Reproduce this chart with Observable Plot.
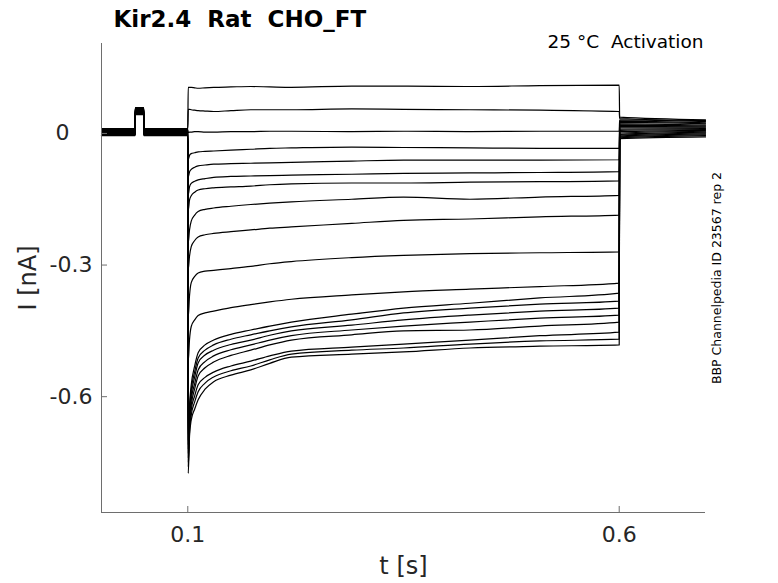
<!DOCTYPE html>
<html><head><meta charset="utf-8">
<script src="https://cdn.jsdelivr.net/npm/d3@7"></script>
<script src="https://cdn.jsdelivr.net/npm/@observablehq/plot@0.6"></script>
<style>
body{margin:0;background:#fff;}
svg text{white-space:pre;}
</style>
</head><body><div id="chart"></div>
<script>
// ---- data ----
const xDomain = [0, 0.7];
const yDomain = [-0.864, 0.205];
const xTicks = [0.1, 0.6];
const yTicks = [0, -0.3, -0.6];

// holding segment: time points and test-pulse flag
const preT = [0, 0.039, 0.0391, 0.049, 0.0491, 0.1];
const prePulseOn = [0, 0, 1, 1, 0, 0];
const pulseAmp = 0.048;

// holding current of each sweep (nA)
const holdI = [0.011, 0.010, 0.009, 0.008, 0.007, 0.006, 0.005, 0.004, 0.003, 0.002,
               0.001, 0.000, -0.001, -0.002, -0.002, -0.003, -0.004, -0.004, -0.005];

// step segment sample times (s)
const stepT = [0.1005, 0.102, 0.104, 0.108, 0.112, 0.12, 0.13, 0.15, 0.173, 0.195, 0.22, 0.29, 0.35, 0.427, 0.508, 0.6];

// current during the step for each sweep (nA)
const s1  = [0.105, 0.105, 0.105, 0.104, 0.103, 0.104, 0.105, 0.106, 0.107, 0.106, 0.105, 0.108, 0.108, 0.107, 0.109, 0.110];
const s2  = [0.055, 0.055, 0.054, 0.053, 0.052, 0.051, 0.050, 0.052, 0.054, 0.054, 0.054, 0.056, 0.055, 0.054, 0.053, 0.050];
const s3  = [0.002, 0.003, 0.003, 0.004, 0.004, 0.003, 0.003, 0.004, 0.004, 0.005, 0.005, 0.004, 0.005, 0.004, 0.005, 0.005];
const s4  = [-0.060, -0.050, -0.046, -0.044, -0.042, -0.041, -0.040, -0.038, -0.036, -0.034, -0.033, -0.031, -0.032, -0.033, -0.034, -0.034];
const s5  = [-0.100, -0.088, -0.082, -0.077, -0.074, -0.072, -0.070, -0.069, -0.068, -0.067, -0.066, -0.063, -0.061, -0.061, -0.061, -0.060];
const s6  = [-0.140, -0.122, -0.114, -0.109, -0.106, -0.103, -0.100, -0.098, -0.097, -0.096, -0.095, -0.093, -0.091, -0.090, -0.089, -0.087];
const s7  = [-0.175, -0.152, -0.142, -0.134, -0.129, -0.126, -0.124, -0.122, -0.120, -0.117, -0.115, -0.113, -0.113, -0.111, -0.110, -0.108];
const s8  = [-0.250, -0.220, -0.200, -0.186, -0.178, -0.173, -0.170, -0.166, -0.162, -0.159, -0.156, -0.150, -0.145, -0.150, -0.145, -0.141];
const s9  = [-0.310, -0.280, -0.258, -0.244, -0.236, -0.231, -0.228, -0.224, -0.220, -0.216, -0.213, -0.205, -0.198, -0.195, -0.190, -0.186];
const s10 = [-0.420, -0.370, -0.340, -0.326, -0.318, -0.314, -0.312, -0.308, -0.303, -0.297, -0.292, -0.283, -0.278, -0.274, -0.272, -0.270];
const s11 = [-0.520, -0.470, -0.440, -0.425, -0.415, -0.409, -0.405, -0.397, -0.390, -0.384, -0.378, -0.368, -0.361, -0.355, -0.349, -0.341];
const s12 = [-0.700, -0.620, -0.573, -0.530, -0.500, -0.482, -0.471, -0.458, -0.448, -0.439, -0.430, -0.412, -0.398, -0.387, -0.375, -0.364];
const s13 = [-0.710, -0.630, -0.585, -0.543, -0.512, -0.494, -0.482, -0.469, -0.459, -0.450, -0.441, -0.425, -0.409, -0.398, -0.389, -0.382];
const s14 = [-0.720, -0.640, -0.596, -0.555, -0.523, -0.505, -0.494, -0.481, -0.471, -0.460, -0.450, -0.437, -0.425, -0.414, -0.405, -0.398];
const s15 = [-0.730, -0.650, -0.607, -0.570, -0.539, -0.520, -0.507, -0.493, -0.482, -0.471, -0.461, -0.448, -0.439, -0.430, -0.421, -0.414];
const s16 = [-0.740, -0.660, -0.619, -0.582, -0.553, -0.534, -0.521, -0.506, -0.494, -0.482, -0.471, -0.459, -0.450, -0.448, -0.439, -0.430];
const s17 = [-0.750, -0.670, -0.630, -0.598, -0.573, -0.556, -0.544, -0.530, -0.519, -0.507, -0.496, -0.487, -0.480, -0.471, -0.461, -0.453];
const s18 = [-0.760, -0.680, -0.642, -0.612, -0.589, -0.569, -0.555, -0.541, -0.530, -0.516, -0.503, -0.494, -0.489, -0.480, -0.473, -0.469];
const s19 = [-0.775, -0.690, -0.653, -0.628, -0.607, -0.583, -0.566, -0.551, -0.539, -0.524, -0.510, -0.503, -0.498, -0.489, -0.485, -0.482];
const stepI = [s1, s2, s3, s4, s5, s6, s7, s8, s9, s10, s11, s12, s13, s14, s15, s16, s17, s18, s19];

// after the step: start and end current of each sweep (nA)
const tailT = [0.6005, 0.7];
const tailStart = [0.037, 0.034, 0.031, 0.028, 0.025, 0.022, 0.019, 0.016, 0.013, 0.010,
                   0.007, 0.004, 0.001, -0.002, -0.004, -0.006, -0.008, -0.010, -0.012];
const tailEnd   = [0.031, 0.029, 0.027, 0.024, 0.022, 0.019, 0.017, 0.015, 0.013, 0.011,
                   0.009, 0.007, 0.005, 0.003, 0.001, -0.001, -0.003, -0.005, -0.008];

// ---- table ----
const rows = [];
stepI.forEach((vals, k) => {
  preT.forEach((t, j) => rows.push({sweep: k, t, i: holdI[k] + prePulseOn[j] * pulseAmp}));
  stepT.forEach((t, j) => rows.push({sweep: k, t, i: vals[j]}));
  rows.push({sweep: k, t: tailT[0], i: tailStart[k]});
  rows.push({sweep: k, t: tailT[1], i: tailEnd[k]});
});

const W = 778, H = 583, mL = 101, mR = 73, mT = 43, mB = 71;
const axisColor = "#6e6e6e", labelColor = "#262626";
const fw = W - mL - mR, fh = H - mT - mB;

const chart = Plot.plot({
  width: W, height: H,
  marginLeft: mL, marginRight: mR, marginTop: mT, marginBottom: mB,
  x: {domain: xDomain},
  y: {domain: yDomain},
  style: {fontFamily: "DejaVu Sans", background: "white", overflow: "visible"},
  marks: [
    Plot.line(rows, {x: "t", y: "i", z: "sweep", stroke: "black", strokeWidth: 1.2, curve: "monotone-x"}),
    Plot.ruleX([xDomain[0]], {x: d => d, stroke: axisColor}),
    Plot.ruleY([yDomain[0]], {y: d => d, stroke: axisColor}),
    Plot.ruleX(xTicks, {x: d => d, insetTop: fh - 6, stroke: axisColor}),
    Plot.ruleY(yTicks, {y: d => d, insetRight: fw - 6, stroke: axisColor}),
    Plot.axisX({ticks: xTicks, tickSize: 0, tickPadding: 14, fontSize: 22, fill: labelColor,
                tickFormat: d => String(d), label: null}),
    Plot.axisY({ticks: yTicks.filter(d => d !== 0), tickSize: 0, tickPadding: 9, fontSize: 22,
                fill: labelColor, tickFormat: d => String(d), label: null}),
    Plot.text(yTicks.filter(d => d === 0), {y: d => d, frameAnchor: "left", dx: -32, textAnchor: "end",
                text: d => String(d), fontSize: 22, fill: labelColor, lineAnchor: "middle"}),
    Plot.text(["I [nA]"], {frameAnchor: "left", dx: -73, rotate: -90, fontSize: 24, fill: labelColor,
                lineAnchor: "middle", textAnchor: "middle"}),
    Plot.text(["t [s]"], {frameAnchor: "bottom", dy: 61, fontSize: 24, fill: labelColor,
                lineAnchor: "bottom", textAnchor: "middle"}),
    Plot.text(["Kir2.4  Rat  CHO_FT"], {frameAnchor: "top-left", dx: 12, dy: -17, fontSize: 23,
                fontWeight: "bold", fill: "black", lineAnchor: "bottom", textAnchor: "start"}),
    Plot.text(["25 °C  Activation"], {frameAnchor: "top-right", dx: -2, dy: 4, fontSize: 18.5,
                fill: "black", lineAnchor: "bottom", textAnchor: "end"}),
    Plot.text(["BBP Channelpedia ID 23567 rep 2"], {frameAnchor: "right", dx: 15, rotate: -90,
                fontSize: 12.5, fill: "black", lineAnchor: "bottom", textAnchor: "middle"})
  ]
});
document.getElementById("chart").appendChild(chart);
</script>
</body></html>
